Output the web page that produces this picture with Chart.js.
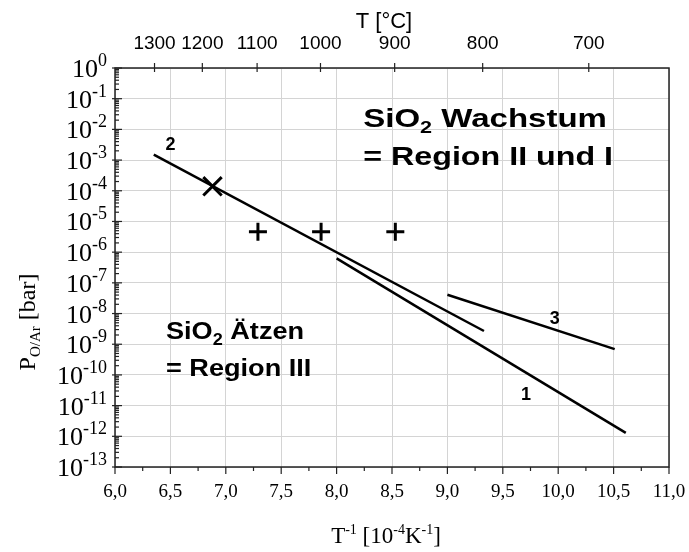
<!DOCTYPE html>
<html>
<head>
<meta charset="UTF-8">
<title>SiO2 Wachstum / Ätzen</title>
<script src="https://cdn.jsdelivr.net/npm/chart.js"></script>
<style>
body{margin:0;background:white;}
</style>
</head>
<body>
<canvas id="c" width="689" height="552"></canvas>
<script>
// x = 10^4/T [1/K], y = p(O/Ar) [bar]
const line1X=[8.0,10.61];
const line1Y=[6.3e-7,1.3e-12];
const line2X=[6.35,9.33];
const line2Y=[1.5e-3,2.7e-9];
const line3X=[9.0,10.51];
const line3Y=[4.1e-8,6.9e-10];
const crossX=[6.88];
const crossY=[1.4e-4];
const plusX=[7.29,7.86,8.53];
const plusY=[4.6e-6,4.6e-6,4.6e-6];

const bottomTicks=[6,6.5,7,7.5,8,8.5,9,9.5,10,10.5,11];
const topTempC=[1300,1200,1100,1000,900,800,700];
const yExp=[0,-1,-2,-3,-4,-5,-6,-7,-8,-9,-10,-11,-12,-13];

// curve numbers (data coordinates)
const curveLabels=[["2",6.50,10**-2.43],["1",9.71,10**-10.58],["3",9.97,10**-8.1]];

const pts=(xs,ys)=>xs.map((x,i)=>({x:x,y:ys[i]}));
const serif='"Liberation Serif", "Times New Roman", serif';
const sans='"Liberation Sans", Arial, sans-serif';

function rich(c,parts,x,y,align,sx){
  sx=sx||1;
  let w=0;
  parts.forEach(p=>{c.font=p.f;p.w=c.measureText(p.t).width;w+=p.w;});
  let x0=align==='right'?x-w*sx:align==='center'?x-w*sx/2:x;
  c.save();
  c.translate(x0,y);
  c.scale(sx,1);
  let cx=0;
  parts.forEach(p=>{c.font=p.f;c.fillText(p.t,cx,p.dy||0);cx+=p.w;});
  c.restore();
}

const deco={
  id:'deco',
  afterDraw(ch){
    const c=ch.ctx,a=ch.chartArea,xs=ch.scales.x,ys=ch.scales.y;
    const ln=(x1,y1,x2,y2)=>{c.beginPath();c.moveTo(x1,y1);c.lineTo(x2,y2);c.stroke();};
    c.save();
    c.strokeStyle='#222';
    c.lineWidth=1.5;
    c.strokeRect(a.left,a.top,a.right-a.left,a.bottom-a.top);
    c.lineWidth=1.2;
    // bottom ticks
    for(let k=0;k<=20;k++){
      const v=6+k*0.25,px=xs.getPixelForValue(v);
      ln(px,a.bottom,px,a.bottom+(k%2===0?7:4));
    }
    // top ticks
    topTempC.forEach(t=>{const px=xs.getPixelForValue(1e4/(t+273.15));ln(px,a.top-5,px,a.top+4);});
    // y ticks
    yExp.forEach(e=>{
      const py=ys.getPixelForValue(10**e);
      ln(a.left-3,py,a.left+7,py);
      if(e<0) for(let m=2;m<=9;m++){const p=ys.getPixelForValue(m*10**e);ln(a.left,p,a.left+4,p);}
    });
    c.fillStyle='#000';
    c.textBaseline='alphabetic';
    // y labels
    yExp.forEach(e=>{
      const py=ys.getPixelForValue(10**e);
      rich(c,[{t:'10',f:'26px '+serif},{t:String(e),f:'18px '+serif,dy:-11}],a.left-8,py+9,'right');
    });
    // axis titles
    c.save();
    c.translate(35,322);
    c.rotate(-Math.PI/2);
    rich(c,[{t:'P',f:'24px '+serif},{t:'O/Ar',f:'15px '+serif,dy:5},{t:' [bar]',f:'24px '+serif}],0,0,'center');
    c.restore();
    rich(c,[{t:'T',f:'23px '+serif},{t:'-1',f:'14px '+serif,dy:-9},{t:' [10',f:'23px '+serif},{t:'-4',f:'14px '+serif,dy:-9},
      {t:'K',f:'23px '+serif},{t:'-1',f:'14px '+serif,dy:-9},{t:']',f:'23px '+serif}],(a.left+a.right)/2-6,543,'center');
    rich(c,[{t:'T [°C]',f:'22px '+sans}],(a.left+a.right)/2-8,28,'center');
    // curve numbers
    curveLabels.forEach(l=>{
      rich(c,[{t:l[0],f:'bold 18px '+sans}],xs.getPixelForValue(l[1]),ys.getPixelForValue(l[2])+7,'center');
    });
    // region texts
    const B='bold 26px '+sans,S='bold 17px '+sans;
    const wx=xs.getPixelForValue(8.24),ex=xs.getPixelForValue(6.46);
    rich(c,[{t:'SiO',f:B},{t:'2',f:S,dy:6},{t:' Wachstum',f:B}],wx,ys.getPixelForValue(10**-1.63)+9,'left',1.27);
    rich(c,[{t:'= Region II und I',f:B}],wx,ys.getPixelForValue(10**-2.87)+9,'left',1.24);
    rich(c,[{t:'SiO',f:'bold 24px '+sans},{t:'2',f:'bold 16px '+sans,dy:6},{t:' Ätzen',f:'bold 24px '+sans}],ex,ys.getPixelForValue(10**-8.53)+9,'left',1.13);
    rich(c,[{t:'= Region III',f:'bold 24px '+sans}],ex,ys.getPixelForValue(10**-9.74)+9,'left',1.13);
    c.restore();
  }
};

const lineDs=(xs,ys)=>({data:pts(xs,ys),showLine:true,borderColor:'#000',borderWidth:2.5,pointRadius:0,fill:false});

new Chart(document.getElementById('c'),{
  type:'scatter',
  data:{datasets:[
    lineDs(line1X,line1Y),
    lineDs(line2X,line2Y),
    lineDs(line3X,line3Y),
    {data:pts(crossX,crossY),pointStyle:'crossRot',pointRadius:13,borderWidth:3,borderColor:'#000',backgroundColor:'#000'},
    {data:pts(plusX,plusY),pointStyle:'cross',pointRadius:9,borderWidth:3,borderColor:'#000',backgroundColor:'#000'}
  ]},
  options:{
    responsive:false,
    animation:false,
    devicePixelRatio:1,
    layout:{padding:{left:0,right:20,top:0,bottom:0}},
    plugins:{legend:{display:false},tooltip:{enabled:false}},
    scales:{
      x:{
        type:'linear',position:'bottom',min:6,max:11,
        afterBuildTicks:s=>{s.ticks=bottomTicks.map(v=>({value:v}));},
        afterFit:s=>{s.height=85;s.paddingLeft=0;s.paddingRight=0;},
        grid:{color:'#d4d4d4',lineWidth:1,drawTicks:false},
        border:{display:false},
        ticks:{autoSkip:false,maxRotation:0,padding:14,color:'#000',font:{family:serif,size:19},
          callback:v=>v.toFixed(1).replace('.',',')}
      },
      x2:{
        type:'linear',position:'top',min:6,max:11,
        afterBuildTicks:s=>{s.ticks=topTempC.map(t=>({value:1e4/(t+273.15)}));},
        afterFit:s=>{s.height=68;s.paddingLeft=0;s.paddingRight=0;},
        grid:{drawOnChartArea:false,drawTicks:false},
        border:{display:false},
        ticks:{autoSkip:false,maxRotation:0,padding:13,color:'#000',font:{family:sans,size:19},
          callback:v=>String(Math.round(1e4/v-273.15))}
      },
      y:{
        type:'logarithmic',min:1e-13,max:1,
        afterBuildTicks:s=>{s.ticks=yExp.map(e=>({value:10**e,major:true}));},
        afterFit:s=>{s.width=115;s.paddingTop=0;s.paddingBottom=0;},
        grid:{color:'#d4d4d4',lineWidth:1,drawTicks:false},
        border:{display:false},
        ticks:{display:false}
      }
    }
  },
  plugins:[deco]
});
</script>
</body>
</html>
